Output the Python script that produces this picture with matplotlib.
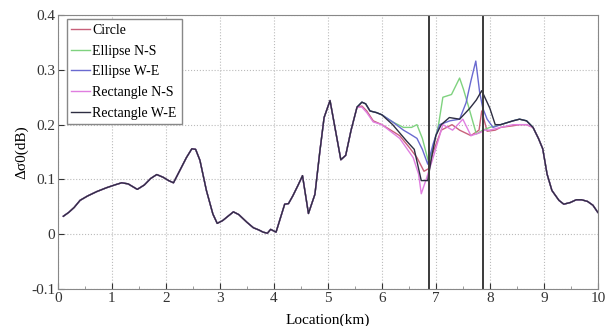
"""Plot backscatter difference along the track for the five obstacle shapes."""

import sys
import numpy as np
import matplotlib
matplotlib.use('Agg')
import matplotlib.pyplot as plt

# shared part of the profile, before the curves split
base_x = [0.1, 0.2, 0.3, 0.41, 0.55, 0.72, 0.9, 1.05, 1.18, 1.3, 1.47, 1.6, 1.72, 1.83, 1.95, 2.05,
          2.14, 2.25, 2.38, 2.48, 2.55, 2.63, 2.75, 2.87, 2.95, 3.05, 3.15, 3.25, 3.35, 3.5, 3.62,
          3.72, 3.8, 3.88, 3.94, 4.04, 4.2, 4.27, 4.35, 4.45, 4.53, 4.64, 4.76, 4.85, 4.93, 5.04,
          5.14, 5.24, 5.33, 5.43, 5.54]
base_y = [0.033, 0.04, 0.049, 0.062, 0.07, 0.078, 0.085, 0.09, 0.094, 0.092, 0.082, 0.09, 0.102,
          0.109, 0.104, 0.098, 0.094, 0.115, 0.14, 0.156, 0.155, 0.135, 0.08, 0.037, 0.02, 0.025,
          0.033, 0.041, 0.036, 0.022, 0.012, 0.008, 0.004, 0.002, 0.009, 0.004, 0.055, 0.056, 0.07,
          0.09, 0.107, 0.038, 0.073, 0.15, 0.213, 0.244, 0.19, 0.136, 0.144, 0.19, 0.232]

# section where the shapes differ
circle_x = [5.63, 5.72, 5.84, 6.0, 6.33, 6.52, 6.65, 6.78, 6.87, 6.95, 7.1, 7.3, 7.44, 7.65, 7.8,
            7.85, 7.95, 8.1, 8.2, 8.43, 8.55, 8.68]
circle_y = [0.234, 0.225, 0.207, 0.2, 0.18, 0.157, 0.14, 0.115, 0.12, 0.15, 0.19, 0.2, 0.19, 0.18,
            0.19, 0.225, 0.188, 0.19, 0.195, 0.198, 0.2, 0.2]

ell_ns_x = [5.63, 5.7, 5.78, 5.9, 6.0, 6.2, 6.4, 6.55, 6.65, 6.75, 6.87, 6.95, 7.05, 7.13, 7.29,
            7.44, 7.51, 7.6, 7.75, 7.87, 8.0, 8.2, 8.43, 8.55, 8.68]
ell_ns_y = [0.241, 0.238, 0.225, 0.222, 0.218, 0.205, 0.195, 0.195, 0.2, 0.175, 0.13, 0.16, 0.2,
            0.25, 0.255, 0.285, 0.265, 0.235, 0.183, 0.19, 0.195, 0.2, 0.207, 0.21, 0.207]

ell_we_x = [5.63, 5.7, 5.78, 5.9, 6.0, 6.2, 6.4, 6.52, 6.65, 6.75, 6.85, 6.95, 7.07, 7.26, 7.44,
            7.56, 7.65, 7.74, 7.81, 7.87, 7.95, 8.06, 8.2, 8.43, 8.55, 8.68]
ell_we_y = [0.241, 0.238, 0.225, 0.222, 0.218, 0.205, 0.19, 0.183, 0.175, 0.155, 0.128, 0.165, 0.2,
            0.207, 0.21, 0.24, 0.28, 0.316, 0.26, 0.23, 0.21, 0.195, 0.2, 0.207, 0.21, 0.207]

rect_ns_x = [5.63, 5.72, 5.84, 6.0, 6.33, 6.58, 6.68, 6.73, 6.82, 6.95, 7.13, 7.31, 7.5, 7.65, 7.81,
             7.9, 8.0, 8.2, 8.43, 8.55, 8.68]
rect_ns_y = [0.232, 0.222, 0.205, 0.2, 0.175, 0.14, 0.11, 0.074, 0.1, 0.14, 0.2, 0.19, 0.21, 0.18,
             0.185, 0.19, 0.19, 0.195, 0.2, 0.2, 0.2]

rect_we_x = [5.63, 5.7, 5.78, 5.9, 6.0, 6.2, 6.46, 6.6, 6.73, 6.85, 6.92, 7.0, 7.1, 7.25, 7.44,
             7.63, 7.75, 7.85, 7.93, 8.0, 8.1, 8.2, 8.43, 8.55, 8.68]
rect_we_y = [0.241, 0.238, 0.225, 0.222, 0.218, 0.2, 0.17, 0.155, 0.098, 0.098, 0.14, 0.18, 0.2,
             0.213, 0.21, 0.23, 0.245, 0.262, 0.245, 0.23, 0.2, 0.2, 0.207, 0.21, 0.207]

# shared tail
tail_x = [8.8, 8.9, 8.98, 9.06, 9.15, 9.28, 9.37, 9.49, 9.6, 9.7, 9.81, 9.91, 10.0]
tail_y = [0.195, 0.175, 0.156, 0.11, 0.08, 0.062, 0.055, 0.058, 0.063, 0.063, 0.06, 0.053, 0.04]

labels = ['Circle', 'Ellipse N-S', 'Ellipse W-E', 'Rectangle N-S', 'Rectangle W-E']
markers_km = [6.87, 7.87]


def main():
    plt.rcParams['font.family'] = ['Liberation Serif', 'DejaVu Serif']

    colors = ['#c8607a', '#7fd27f', '#6a6ad0', '#e07ee0', '#2e2e42']
    mids = [(circle_x, circle_y), (ell_ns_x, ell_ns_y), (ell_we_x, ell_we_y),
            (rect_ns_x, rect_ns_y), (rect_we_x, rect_we_y)]

    fig = plt.figure(figsize=(6.1, 3.26), dpi=100)
    ax = fig.add_axes([0.095, 0.113, 0.885, 0.841])

    for label, color, (mx, my) in zip(labels, colors, mids):
        x = np.concatenate([base_x, mx, tail_x])
        y = np.concatenate([base_y, my, tail_y])
        ax.plot(x, y, color=color, lw=1.0, label=label)

    for xm in markers_km:
        ax.axvline(xm, color='#3a3a3a', lw=1.4)

    ax.set_xlim(0, 10)
    ax.set_ylim(-0.1, 0.4)
    ax.set_xticks(np.arange(0, 11, 1))
    ax.set_xticks(np.arange(0.5, 10, 1), minor=True)
    ax.set_yticks([-0.1, 0, 0.1, 0.2, 0.3, 0.4])
    ax.set_yticklabels(['-0.1', '0', '0.1', '0.2', '0.3', '0.4'])
    ax.tick_params(direction='in', length=4, labelsize=11, colors='#333333', pad=2)
    ax.tick_params(which='minor', direction='in', length=2, color='#888888')
    ax.grid(True, ls=':', color='#bbbbbb', lw=0.8)
    for sp in ax.spines.values():
        sp.set_color('#888888')

    ax.set_xlabel('Location(km)', fontsize=11, labelpad=6)
    ax.set_ylabel('Δσ0(dB)', fontsize=11, labelpad=2)

    leg = ax.legend(loc='upper left', bbox_to_anchor=(0.016, 0.985), borderaxespad=0,
                    fontsize=10, handlelength=1.3, handletextpad=0.2, labelspacing=0.55,
                    fancybox=False, framealpha=1, borderpad=0.35)
    leg.get_frame().set_edgecolor('#888888')

    fig.savefig('out.png', dpi=100)
    return 0


if __name__ == '__main__':
    sys.exit(main())
